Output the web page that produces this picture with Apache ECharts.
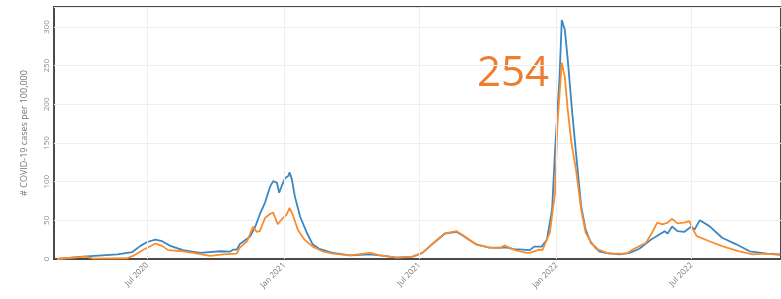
<!DOCTYPE html>
<html>
<head>
<meta charset="utf-8">
<script src="https://cdn.jsdelivr.net/npm/echarts@6/dist/echarts.min.js"></script>
<style>
  html, body { margin: 0; padding: 0; background: #fff; }
  #chart { width: 781px; height: 299px; }
</style>
</head>
<body>
<div id="chart"></div>
<script>
// values, cases per 100,000
const casesBlue = [
  ['2020-03-02', 0], ['2020-04-06', 3], ['2020-05-22', 6], ['2020-06-11', 9],
  ['2020-06-22', 17], ['2020-07-01', 22], ['2020-07-12', 25], ['2020-07-21', 23],
  ['2020-08-01', 17], ['2020-08-18', 11.5], ['2020-09-10', 8], ['2020-10-07', 10],
  ['2020-10-20', 9.5], ['2020-10-24', 12], ['2020-10-29', 12], ['2020-11-02', 19],
  ['2020-11-16', 29], ['2020-11-23', 42], ['2020-11-29', 57.6], ['2020-12-06', 73],
  ['2020-12-13', 94], ['2020-12-17', 100.7], ['2020-12-22', 98.6], ['2020-12-25', 85.7],
  ['2020-12-29', 96], ['2021-01-02', 105], ['2021-01-06', 107], ['2021-01-08', 112],
  ['2021-01-11', 103], ['2021-01-15', 81], ['2021-01-22', 55], ['2021-01-31', 34],
  ['2021-02-08', 19], ['2021-02-17', 13], ['2021-03-03', 9], ['2021-03-07', 8],
  ['2021-03-30', 4.6], ['2021-04-26', 6], ['2021-05-09', 4.6], ['2021-06-01', 1.7],
  ['2021-06-22', 3], ['2021-07-05', 8], ['2021-07-18', 19], ['2021-08-04', 32.7],
  ['2021-08-20', 35], ['2021-08-28', 30.5], ['2021-09-06', 24.5], ['2021-09-15', 19],
  ['2021-10-03', 14.6], ['2021-10-17', 14.6], ['2021-10-26', 15], ['2021-11-06', 12.4],
  ['2021-11-12', 12.4], ['2021-11-26', 11.5], ['2021-12-02', 16], ['2021-12-12', 16],
  ['2021-12-19', 25], ['2021-12-26', 64], ['2021-12-30', 141], ['2022-01-01', 172],
  ['2022-01-05', 236], ['2022-01-08', 309], ['2022-01-12', 297], ['2022-01-16', 258],
  ['2022-01-22', 189], ['2022-01-27', 138], ['2022-02-03', 68], ['2022-02-09', 38],
  ['2022-02-16', 21], ['2022-02-23', 14.6], ['2022-02-27', 10], ['2022-03-08', 8],
  ['2022-03-26', 6], ['2022-04-09', 8], ['2022-04-22', 13.3], ['2022-05-09', 26],
  ['2022-05-26', 36], ['2022-05-30', 33], ['2022-06-05', 42], ['2022-06-12', 36],
  ['2022-06-21', 35], ['2022-07-01', 42], ['2022-07-05', 38], ['2022-07-12', 50],
  ['2022-07-25', 42.5], ['2022-08-11', 27.5], ['2022-08-30', 19], ['2022-09-17', 10],
  ['2022-10-10', 7], ['2022-10-28', 6]
];

const casesOrange = [
  ['2020-03-02', 0], ['2020-04-09', 3], ['2020-04-20', 0.5], ['2020-06-04', 1],
  ['2020-06-12', 4], ['2020-06-26', 12], ['2020-07-12', 20], ['2020-07-21', 17],
  ['2020-07-29', 11.5], ['2020-08-18', 10], ['2020-09-01', 8], ['2020-09-23', 4],
  ['2020-10-11', 6], ['2020-10-29', 7], ['2020-11-02', 14.5], ['2020-11-05', 17],
  ['2020-11-12', 23], ['2020-11-20', 42], ['2020-11-25', 35], ['2020-11-29', 36],
  ['2020-12-06', 53], ['2020-12-13', 58.5], ['2020-12-17', 60], ['2020-12-23', 45],
  ['2020-12-30', 53], ['2021-01-04', 57.6], ['2021-01-08', 66], ['2021-01-12', 57.6],
  ['2021-01-19', 38], ['2021-01-28', 25], ['2021-02-08', 16], ['2021-02-21', 10],
  ['2021-03-07', 7], ['2021-03-30', 4.6], ['2021-04-26', 8], ['2021-05-09', 4.6],
  ['2021-06-01', 1.7], ['2021-06-22', 3], ['2021-07-05', 8], ['2021-07-18', 19],
  ['2021-08-04', 33], ['2021-08-20', 36], ['2021-08-28', 31], ['2021-09-06', 25],
  ['2021-09-15', 19], ['2021-10-03', 14.6], ['2021-10-17', 14], ['2021-10-23', 17.6],
  ['2021-11-06', 11.5], ['2021-11-22', 8], ['2021-11-26', 8], ['2021-12-09', 12],
  ['2021-12-13', 11.5], ['2021-12-23', 34], ['2021-12-30', 86], ['2022-01-02', 172],
  ['2022-01-08', 254], ['2022-01-12', 236], ['2022-01-16', 193], ['2022-01-21', 150],
  ['2022-01-27', 116], ['2022-02-03', 64], ['2022-02-09', 34], ['2022-02-17', 21],
  ['2022-02-23', 13], ['2022-02-27', 12], ['2022-03-12', 7], ['2022-04-05', 7],
  ['2022-04-15', 13.3], ['2022-05-01', 21], ['2022-05-09', 34], ['2022-05-16', 47],
  ['2022-05-23', 44.7], ['2022-05-30', 47], ['2022-06-05', 52], ['2022-06-12', 46],
  ['2022-06-21', 47], ['2022-06-28', 49], ['2022-07-02', 40], ['2022-07-08', 29.6],
  ['2022-07-25', 23], ['2022-08-11', 16.7], ['2022-09-03', 10], ['2022-09-21', 6],
  ['2022-10-10', 7], ['2022-10-28', 5]
];

const tickDates = ['2020-07-01', '2021-01-01', '2021-07-01', '2022-01-01', '2022-07-01'];
const yTicks = [0, 50, 100, 150, 200, 250, 300];
const peakLabel = '254';

const monthNames = ['Jan', 'Feb', 'Mar', 'Apr', 'May', 'Jun', 'Jul', 'Aug', 'Sep', 'Oct', 'Nov', 'Dec'];
const toTime = d => Date.UTC(+d.slice(0, 4), +d.slice(5, 7) - 1, +d.slice(8, 10));
const tickTimes = tickDates.map(toTime);
const toPoints = arr => arr.map(p => [toTime(p[0]), p[1]]);

const chart = echarts.init(document.getElementById('chart'));
chart.setOption({
  animation: false,
  textStyle: { fontFamily: 'Open Sans' },
  grid: {
    left: 54, top: 7, right: 0, bottom: 40,
    show: true, borderColor: '#4a4a4a', borderWidth: 2
  },
  xAxis: {
    type: 'value',
    min: toTime('2020-02-27'),
    max: toTime('2022-10-29'),
    axisLine: { show: true, onZero: false, lineStyle: { color: '#4a4a4a', width: 2 } },
    axisTick: { show: false, customValues: tickTimes },
    axisLabel: {
      customValues: tickTimes,
      rotate: 45,
      fontSize: 8,
      color: '#777',
      margin: 5,
      formatter: v => {
        const d = new Date(v);
        return monthNames[d.getUTCMonth()] + ' ' + d.getUTCFullYear();
      }
    },
    // vertical grid lines are drawn as a markLine at the tick dates
    splitLine: { show: false }
  },
  yAxis: {
    type: 'value',
    min: 0,
    max: 326,
    interval: 50,
    name: '# COVID-19 cases per 100,000',
    nameLocation: 'middle',
    nameGap: 25,
    nameTextStyle: { fontSize: 9, color: '#777' },
    axisLine: { show: false },
    axisTick: { show: false },
    axisLabel: {
      customValues: yTicks,
      rotate: 90,
      fontSize: 8,
      color: '#888',
      margin: 3
    },
    splitLine: { lineStyle: { color: '#eeeeee', width: 1 } }
  },
  series: [
    {
      name: 'blue',
      type: 'line',
      data: toPoints(casesBlue),
      showSymbol: false,
      lineStyle: { color: '#3a87c3', width: 1.8 },
      itemStyle: { color: '#3a87c3' },
      markLine: {
        silent: true,
        symbol: 'none',
        label: { show: false },
        lineStyle: { color: '#eeeeee', width: 1, type: 'solid' },
        data: tickTimes.map(t => ({ xAxis: t }))
      }
    },
    {
      name: 'orange',
      type: 'line',
      data: toPoints(casesOrange),
      showSymbol: false,
      lineStyle: { color: '#fb8c2e', width: 1.8 },
      itemStyle: { color: '#fb8c2e' }
    }
  ],
  graphic: [{
    type: 'text',
    left: 477,
    top: 53,
    style: {
      text: peakLabel,
      fontSize: 42,
      fontFamily: 'Open Sans',
      fill: '#ed7d31'
    }
  }]
});
</script>
</body>
</html>
